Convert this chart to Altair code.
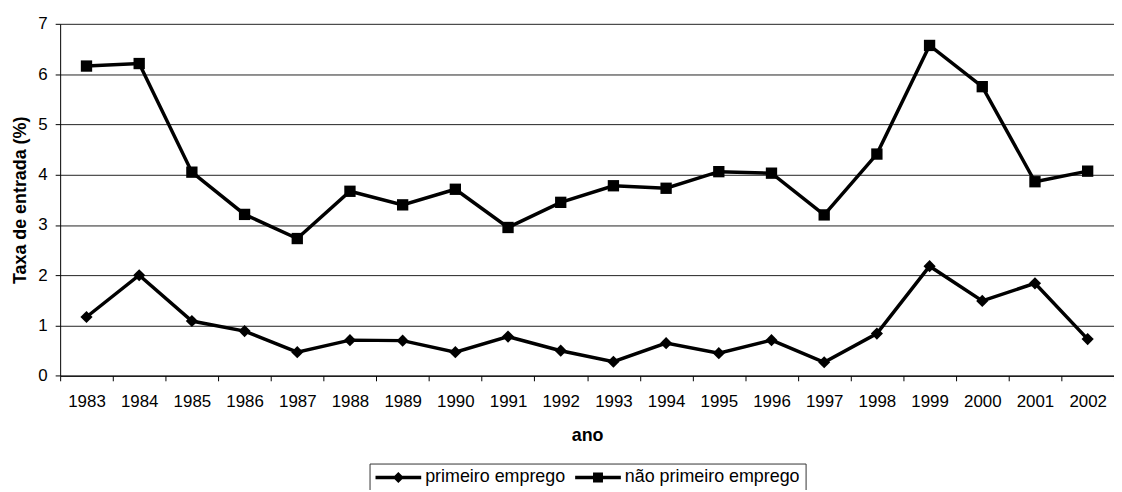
import altair as alt
import pandas as pd

anos = [str(a) for a in range(1983, 2003)]
primeiro_emprego = [1.17, 2.00, 1.09, 0.89, 0.47, 0.71, 0.70, 0.47, 0.78, 0.50,
                    0.28, 0.65, 0.45, 0.71, 0.27, 0.84, 2.18, 1.49, 1.84, 0.73]
nao_primeiro_emprego = [6.16, 6.21, 4.05, 3.21, 2.73, 3.67, 3.40, 3.71, 2.95, 3.45,
                        3.78, 3.73, 4.06, 4.03, 3.20, 4.41, 6.57, 5.75, 3.86, 4.07]
series = ["primeiro emprego", "não primeiro emprego"]
y_ticks = [0, 1, 2, 3, 4, 5, 6, 7]

df = pd.DataFrame({
    "ano": anos * 2,
    "taxa": primeiro_emprego + nao_primeiro_emprego,
    "serie": [series[0]] * len(anos) + [series[1]] * len(anos),
})

FONT = "Liberation Sans"

x_enc = alt.X(
    "ano:O",
    sort=anos,
    scale=alt.Scale(type="band", paddingInner=0, paddingOuter=0),
    axis=alt.Axis(
        title="ano", labelAngle=0, tickBand="extent", grid=False,
        tickSize=5, labelPadding=13, titlePadding=17,
        labelFontSize=17, titleFontSize=18, titleFontWeight="bold",
        labelFont=FONT, titleFont=FONT, labelColor="black", titleColor="black",
        domainColor="black", tickColor="black",
    ),
)
y_enc = alt.Y(
    "taxa:Q",
    scale=alt.Scale(domain=[0, 7], nice=False),
    axis=alt.Axis(
        title="Taxa de entrada (%)", values=y_ticks, format="d",
        tickSize=5, labelPadding=8, titlePadding=8,
        labelFontSize=17, titleFontSize=18, titleFontWeight="bold",
        labelFont=FONT, titleFont=FONT, labelColor="black", titleColor="black",
        domainColor="black", tickColor="black",
        grid=True, gridColor="#222222", gridWidth=1,
    ),
)

base = alt.Chart(df)

lines = base.mark_line(color="black", strokeWidth=3.5).encode(
    x=x_enc, y=y_enc, detail="serie:N"
)

points = base.mark_point(filled=True, color="black", opacity=1).encode(
    x=x_enc, y=y_enc,
    shape=alt.Shape("serie:N", scale=alt.Scale(domain=series, range=["diamond", "square"]), legend=None),
    size=alt.Size("serie:N", scale=alt.Scale(domain=series, range=[150, 130]), legend=None),
)

leg_diamond = "M-1,-0.22L4.75,-0.22L4.75,0.22L-1,0.22Z M1.875,-0.7L2.575,0L1.875,0.7L1.175,0Z"
leg_square = "M-1,-0.22L4.75,-0.22L4.75,0.22L-1,0.22Z M1.25,-0.625L2.5,-0.625L2.5,0.625L1.25,0.625Z"

legend_layer = base.transform_filter("false").mark_point(
    filled=True, color="black", opacity=1, size=256
).encode(
    x=x_enc, y=y_enc,
    shape=alt.Shape(
        "serie:N",
        scale=alt.Scale(domain=series, range=[leg_diamond, leg_square]),
        legend=alt.Legend(
            title=None, orient="none", legendX=311.5, legendY=442.7,
            direction="horizontal", symbolSize=256, symbolStrokeWidth=0,
            symbolFillColor="black", symbolOpacity=1,
            labelFontSize=18, labelFont=FONT, labelColor="black",
            labelOffset=33, labelLimit=400, columnPadding=8, padding=5,
            strokeColor="#333333", fillColor="white",
        ),
    ),
)

chart = alt.layer(lines, points, legend_layer).resolve_scale(
    shape="independent", size="independent"
).properties(
    width=1061, height=354.4,
    autosize=alt.AutoSizeParams(type="none"),
    padding={"left": 52.5, "top": 14.3, "right": 0, "bottom": 113},
    background="white",
).configure_view(stroke="transparent")

chart.save("out.html", embed_options={"renderer": "svg", "actions": False})
